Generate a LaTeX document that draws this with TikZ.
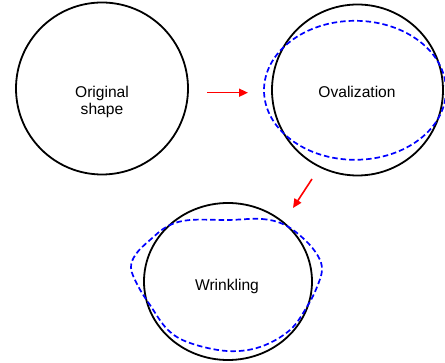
\documentclass[tikz,border=0pt]{standalone}
\usepackage{fontspec}
\setmainfont{Liberation Sans}
\usetikzlibrary{shapes.geometric,arrows.meta}
\begin{document}
\begin{tikzpicture}[x=1pt,y=-1pt,
  shapeline/.style={draw=black,line width=1.8pt,inner sep=0pt,outer sep=0pt},
  deformed/.style={draw=blue,line width=1.7pt,dash pattern=on 5.5pt off 3pt},
  redarrow/.style={draw=red,line width=1.6pt,-{Triangle[length=9pt,width=8pt]}},
  lbl/.style={font=\fontsize{15.6}{16.7}\selectfont,inner sep=0pt,align=center,anchor=base}]
\useasboundingbox (0,0) rectangle (445,363);
\clip (0,0) rectangle (445,363);
% circles
\node[shapeline,circle,minimum size=172pt] (orig) at (102,88.5) {};
\node[shapeline,circle,minimum size=171pt] (oval) at (357.5,90) {};
\node[shapeline,ellipse,minimum width=168pt,minimum height=157pt] (wrink) at (228,281.5) {};
% deformed shapes
\node[deformed,ellipse,minimum width=182pt,minimum height=139pt,inner sep=0pt] (ovald) at (355,90.3) {};
\draw[deformed] plot[smooth cycle,tension=0.6] coordinates {
  (228,220) (262,219) (285,225) (305,240) (318,256) (322,270) (317,287)
  (308,305) (290,330) (260,347) (227,351) (190,343) (168,330) (150,305)
  (138,286) (131,268) (136,254) (150,240) (168,226) (190,220)};
% labels
\node[lbl] (torig) at (102,114.3) {Original\\shape};
\node[lbl] (toval) at (357,97.3) {Ovalization};
\node[lbl] (twrink) at (227,290.7) {Wrinkling};
% arrows
\coordinate (a1s) at (207,92.7);
\coordinate (a1e) at (248,92.7);
\coordinate (a2s) at (312,179);
\coordinate (a2e) at (293,208);
\draw[redarrow] (a1s) -- (a1e);
\draw[redarrow] (a2s) -- (a2e);
\end{tikzpicture}
\end{document}
